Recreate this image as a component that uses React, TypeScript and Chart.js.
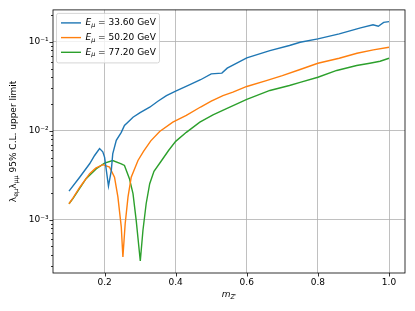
import React, { useEffect, useRef } from 'react';
import { Chart, registerables } from 'chart.js';

Chart.register(...registerables);

// ---- data ----
const blueX = [0.10, 0.13, 0.158, 0.172, 0.186, 0.195, 0.20, 0.211, 0.219, 0.223, 0.233, 0.247, 0.256, 0.27, 0.28, 0.30, 0.327, 0.35, 0.374, 0.40, 0.44, 0.47, 0.50, 0.53, 0.545, 0.60, 0.665, 0.72, 0.75, 0.80, 0.86, 0.92, 0.955, 0.97, 0.985, 1.0];
const blueY = [2.09e-3, 3.0e-3, 4.25e-3, 5.27e-3, 6.3e-3, 5.8e-3, 5.05e-3, 2.39e-3, 3.58e-3, 5.5e-3, 7.8e-3, 9.6e-3, 1.15e-2, 1.3e-2, 1.42e-2, 1.6e-2, 1.84e-2, 2.15e-2, 2.49e-2, 2.8e-2, 3.3e-2, 3.75e-2, 4.37e-2, 4.45e-2, 5.06e-2, 6.6e-2, 7.98e-2, 9.1e-2, 9.9e-2, 0.108, 0.123, 0.144, 0.156, 0.150, 0.166, 0.169];

const orangeX = [0.10, 0.111, 0.13, 0.158, 0.175, 0.195, 0.214, 0.228, 0.2375, 0.247, 0.2516, 0.258, 0.266, 0.275, 0.294, 0.31, 0.33, 0.355, 0.392, 0.43, 0.47, 0.50, 0.533, 0.561, 0.60, 0.655, 0.70, 0.75, 0.80, 0.86, 0.91, 0.956, 1.0];
const orangeY = [1.51e-3, 1.75e-3, 2.3e-3, 3.29e-3, 3.8e-3, 4.15e-3, 3.9e-3, 3.0e-3, 1.8e-3, 8.3e-4, 3.8e-4, 9.0e-4, 1.8e-3, 3.0e-3, 4.63e-3, 5.9e-3, 7.7e-3, 9.8e-3, 1.25e-2, 1.49e-2, 1.85e-2, 2.15e-2, 2.49e-2, 2.72e-2, 3.15e-2, 3.67e-2, 4.18e-2, 4.89e-2, 5.75e-2, 6.55e-2, 7.45e-2, 8.13e-2, 8.7e-2];

const greenX = [0.10, 0.111, 0.148, 0.177, 0.20, 0.223, 0.247, 0.256, 0.27, 0.28, 0.289, 0.3005, 0.308, 0.317, 0.327, 0.339, 0.36, 0.38, 0.40, 0.43, 0.468, 0.505, 0.543, 0.60, 0.665, 0.72, 0.75, 0.80, 0.853, 0.909, 0.946, 0.975, 1.0];
const greenY = [1.51e-3, 1.72e-3, 2.89e-3, 3.74e-3, 4.32e-3, 4.63e-3, 4.25e-3, 4.07e-3, 2.89e-3, 1.96e-3, 9.8e-4, 3.43e-4, 7.6e-4, 1.51e-3, 2.54e-3, 3.5e-3, 4.6e-3, 6.0e-3, 7.6e-3, 9.6e-3, 1.25e-2, 1.51e-2, 1.77e-2, 2.25e-2, 2.84e-2, 3.23e-2, 3.51e-2, 4.0e-2, 4.77e-2, 5.42e-2, 5.75e-2, 6.05e-2, 6.55e-2];

const energies = ['33.60', '50.20', '77.20'];
const colors = ['#1f77b4', '#ff7f0e', '#2ca02c'];

const xTicks = [0.2, 0.4, 0.6, 0.8, 1.0];
const yMajorTicks = [1e-3, 1e-2, 1e-1];
const yMinorTicks = [3e-4, 4e-4, 5e-4, 6e-4, 7e-4, 8e-4, 9e-4, 2e-3, 3e-3, 4e-3, 5e-3, 6e-3, 7e-3, 8e-3, 9e-3, 2e-2, 3e-2, 4e-2, 5e-2, 6e-2, 7e-2, 8e-2, 9e-2, 0.2];
const yMajorLabels = ['10⁻³', '10⁻²', '10⁻¹'];

const FONT = '"DejaVu Sans", sans-serif';
const FS = 9;
const SUB = 6.4;

type Part = { text: string; italic?: boolean; sub?: boolean };

function richWidth(ctx: CanvasRenderingContext2D, parts: Part[]) {
  let w = 0;
  for (const p of parts) {
    ctx.font = `${p.italic ? 'italic ' : ''}${p.sub ? SUB : FS}px ${FONT}`;
    w += ctx.measureText(p.text).width;
  }
  return w;
}

function drawRich(ctx: CanvasRenderingContext2D, parts: Part[], x: number, y: number) {
  let cx = x;
  for (const p of parts) {
    ctx.font = `${p.italic ? 'italic ' : ''}${p.sub ? SUB : FS}px ${FONT}`;
    ctx.fillText(p.text, cx, p.sub ? y + 2.3 : y);
    cx += ctx.measureText(p.text).width;
  }
}

const isMajor = (v: number) => Math.abs(Math.log10(v) - Math.round(Math.log10(v))) < 1e-6;

const decorPlugin = {
  id: 'decor',
  afterDraw(chart: any) {
    const ctx: CanvasRenderingContext2D = chart.ctx;
    const { left, top, right, bottom } = chart.chartArea;
    const xs = chart.scales.x;
    const ys = chart.scales.y;
    ctx.save();
    // frame
    ctx.strokeStyle = '#000';
    ctx.lineWidth = 0.8;
    ctx.strokeRect(left, top, right - left, bottom - top);
    // tick marks
    ctx.beginPath();
    for (const t of xs.ticks) {
      const px = Math.round(xs.getPixelForValue(t.value)) + 0.5;
      ctx.moveTo(px, bottom);
      ctx.lineTo(px, bottom + 3.5);
    }
    for (const t of ys.ticks) {
      const py = Math.round(ys.getPixelForValue(t.value)) + 0.5;
      const len = isMajor(t.value) ? 3.5 : 2;
      ctx.moveTo(left, py);
      ctx.lineTo(left - len, py);
    }
    ctx.stroke();

    // legend
    const bx = left + 3.5, by = top + 3.5, bw = 103, bh = 49.5;
    ctx.beginPath();
    (ctx as any).roundRect(bx, by, bw, bh, 2);
    ctx.fillStyle = 'rgba(255,255,255,0.8)';
    ctx.fill();
    ctx.strokeStyle = '#cccccc';
    ctx.lineWidth = 0.8;
    ctx.stroke();
    ctx.textBaseline = 'middle';
    ctx.textAlign = 'left';
    chart.data.datasets.forEach((ds: any, i: number) => {
      const ry = by + 9.5 + i * 14.7;
      ctx.strokeStyle = ds.borderColor;
      ctx.lineWidth = 1.4;
      ctx.beginPath();
      ctx.moveTo(bx + 4.5, ry);
      ctx.lineTo(bx + 24.5, ry);
      ctx.stroke();
      ctx.fillStyle = '#000';
      drawRich(ctx, [
        { text: 'E', italic: true },
        { text: 'μ', italic: true, sub: true },
        { text: ` = ${energies[i]} GeV` },
      ], bx + 29, ry);
    });

    // x title
    const xParts: Part[] = [
      { text: 'm', italic: true },
      { text: 'Z′', italic: true, sub: true },
    ];
    ctx.fillStyle = '#000';
    const xw = richWidth(ctx, xParts);
    drawRich(ctx, xParts, (left + right) / 2 - xw / 2, 295);

    // y title
    const yParts: Part[] = [
      { text: 'λ', italic: false },
      { text: 'eμ', italic: false, sub: true },
      { text: 'λ', italic: false },
      { text: 'μμ', italic: false, sub: true },
      { text: ' 95% C.L. upper limit' },
    ];
    const yw = richWidth(ctx, yParts);
    ctx.translate(14, (top + bottom) / 2);
    ctx.rotate(-Math.PI / 2);
    drawRich(ctx, yParts, -yw / 2, 0);
    ctx.restore();
  },
};

export default function App() {
  const ref = useRef<HTMLCanvasElement>(null);
  useEffect(() => {
    if (!ref.current) return;
    const mk = (xs: number[], ys: number[]) => xs.map((x, i) => ({ x, y: ys[i] }));
    const chart = new Chart(ref.current, {
      type: 'line',
      data: {
        datasets: [
          { label: `Eμ = ${energies[0]} GeV`, data: mk(blueX, blueY), borderColor: colors[0] },
          { label: `Eμ = ${energies[1]} GeV`, data: mk(orangeX, orangeY), borderColor: colors[1] },
          { label: `Eμ = ${energies[2]} GeV`, data: mk(greenX, greenY), borderColor: colors[2] },
        ].map((d) => ({ ...d, borderWidth: 1.4, pointRadius: 0, tension: 0, fill: false })),
      },
      options: {
        animation: false,
        responsive: false,
        devicePixelRatio: 1,
        layout: { padding: { top: 9, right: 10, left: 0, bottom: 0 } },
        plugins: { legend: { display: false }, tooltip: { enabled: false } },
        scales: {
          x: {
            type: 'linear',
            min: 0.055,
            max: 1.045,
            afterBuildTicks: (s: any) => { s.ticks = xTicks.map((v) => ({ value: v })); },
            afterFit: (s: any) => { s.height = 38; },
            ticks: {
              autoSkip: false,
              maxRotation: 0,
              padding: 4,
              color: '#000',
              font: { family: 'DejaVu Sans', size: FS },
              callback: (v: any) => Number(v).toFixed(1),
            },
            grid: { color: '#b0b0b0', lineWidth: 0.8, drawTicks: false },
            border: { display: false },
          },
          y: {
            type: 'logarithmic',
            min: 2.51e-4,
            max: 0.229,
            afterBuildTicks: (s: any) => {
              s.ticks = [...yMajorTicks, ...yMinorTicks].sort((a, b) => a - b).map((v) => ({ value: v, major: isMajor(v) }));
            },
            afterFit: (s: any) => { s.width = 53; },
            ticks: {
              autoSkip: false,
              padding: 4.5,
              color: '#000',
              font: { family: 'DejaVu Sans', size: FS },
              callback: (v: any) => {
                const idx = yMajorTicks.findIndex((m) => Math.abs(m - Number(v)) / m < 1e-6);
                return idx >= 0 ? yMajorLabels[idx] : '';
              },
            },
            grid: {
              color: (c: any) => (c.tick && isMajor(c.tick.value) ? '#b0b0b0' : 'rgba(0,0,0,0)'),
              lineWidth: 0.8,
              drawTicks: false,
            },
            border: { display: false },
          },
        },
      } as any,
      plugins: [decorPlugin],
    });
    return () => chart.destroy();
  }, []);
  return (
    <div style={{ position: 'absolute', left: 0, top: 0, width: 415, height: 311, background: '#fff' }}>
      <canvas ref={ref} width={415} height={311} style={{ display: 'block', width: 415, height: 311 }} />
    </div>
  );
}
